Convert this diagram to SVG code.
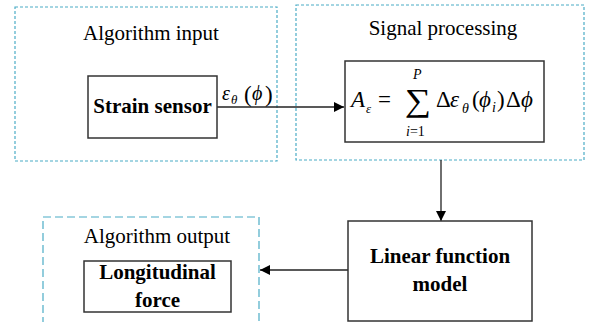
<svg xmlns="http://www.w3.org/2000/svg" width="590" height="322" viewBox="0 0 590 322">
<style>
text{font-family:"Liberation Serif","Times New Roman",serif;fill:#000}
.t{font-size:21px;text-anchor:middle}
.b{font-size:21px;font-weight:bold;text-anchor:middle}
.it{font-style:italic}
.grp{fill:none;stroke:#4bacc6;stroke-width:1.2;stroke-dasharray:3 2}
.grp2{fill:none;stroke:#4bacc6;stroke-width:1.2;stroke-dasharray:8 4}
.box{fill:#fff;stroke:#333;stroke-width:1.5}
.line{fill:none;stroke:#222;stroke-width:1.3}
</style>
<defs>
<marker id="ah" viewBox="0 0 10 10" refX="10" refY="5" markerWidth="10" markerHeight="10" markerUnits="userSpaceOnUse" orient="auto">
<path d="M0,0 L10,5 L0,10 Z" fill="#000"/>
</marker>
</defs>
<g id="group-input">
<rect class="grp" x="15" y="7" width="262" height="154"/>
<text class="t" x="151" y="40">Algorithm input</text>
</g>
<g id="group-processing">
<rect class="grp" x="296" y="5" width="288" height="155"/>
<text class="t" x="443" y="35">Signal processing</text>
</g>
<g id="group-output">
<rect class="grp2" x="43" y="217" width="216" height="120"/>
<text class="t" x="157" y="243">Algorithm output</text>
</g>
<g id="connectors">
<line class="line" x1="217" y1="107" x2="344" y2="107" marker-end="url(#ah)"/>
<line class="line" x1="441" y1="160" x2="441" y2="221" marker-end="url(#ah)"/>
<line class="line" x1="348" y1="270" x2="260" y2="270" marker-end="url(#ah)"/>
<g id="label-strain" font-size="20">
<text x="222" y="100" class="it">ε</text>
<text x="231" y="104" class="it" font-size="13">θ</text>
<text x="244" y="102" font-size="23">(</text>
<text x="252" y="100" class="it">ϕ</text>
<text x="265" y="102" font-size="23">)</text>
</g>
</g>
<g id="strain-sensor">
<rect class="box" x="88" y="76" width="129" height="62"/>
<text class="b" x="152.5" y="113">Strain sensor</text>
</g>
<g id="formula">
<rect class="box" x="345" y="61" width="199" height="81" stroke="#000" stroke-width="2"/>
<g font-size="23">
<text x="351" y="107" class="it">A</text>
<text x="366" y="113" class="it" font-size="13">ε</text>
<text x="378" y="107">=</text>
<text x="405" y="111" font-size="32" transform="translate(405 0) scale(1.15 1) translate(-405 0)">∑</text>
<text x="413" y="79" class="it" font-size="14">P</text>
<text x="406" y="136" font-size="14"><tspan class="it">i</tspan>=1</text>
<text x="436" y="107">Δ</text>
<text x="450" y="107" class="it">ε</text>
<text x="462" y="113" class="it" font-size="14">θ</text>
<text x="472" y="107">(</text>
<text x="479" y="107" class="it">ϕ</text>
<text x="492" y="112" class="it" font-size="14">i</text>
<text x="497" y="107">)</text>
<text x="506" y="107">Δ</text>
<text x="521" y="107" class="it">ϕ</text>
</g>
</g>
<g id="linear-model">
<rect class="box" x="348" y="221" width="184" height="100"/>
<text class="b" x="440" y="263">Linear function</text>
<text class="b" x="440" y="291">model</text>
</g>
<g id="longitudinal-force">
<rect class="box" x="84" y="261" width="147" height="51"/>
<text class="b" x="157.5" y="279">Longitudinal</text>
<text class="b" x="157.5" y="307">force</text>
</g>
</svg>
